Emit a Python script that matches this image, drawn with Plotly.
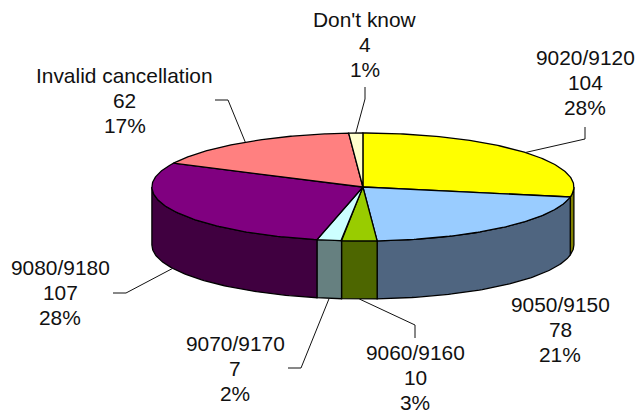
import numpy as np
import plotly.graph_objects as go

# Chart data
categories = ["9020/9120", "9050/9150", "9060/9160", "9070/9170",
              "9080/9180", "Invalid cancellation", "Don't know"]
counts = [104, 78, 10, 7, 107, 62, 4]
percent_labels = ["28%", "21%", "3%", "2%", "28%", "17%", "1%"]

# Slice colours: top face and darker wall
top_colors = ["#FFFF00", "#99CCFF", "#99CC00", "#CCFFFF", "#800080", "#FF8080", "#FFFFCC"]
wall_colors = ["#808000", "#4F6580", "#4D6600", "#668080", "#400040", "#804040", "#808066"]

# Tilted disc geometry, in pixels of the 635x415 page
CX, CY, RX, RY, DEPTH = 362.9, 187.0, 211.0, 54.0, 58.0
EDGE = 1.3
LEADER = 1.0
FONT_SIZE = 20.9
LINE_GAP = 25.0

# Label placement: centre x, y of the first line, leader elbow points from label to disc
placement = {
    "9020/9120": dict(x=585, y=57.5, leader=[(585, 127), (585, 139)], on_base=False),
    "9050/9150": dict(x=560, y=304.5, leader=None, on_base=False),
    "9060/9160": dict(x=415, y=352.5, leader=[(415, 338), (415, 325)], on_base=True),
    "9070/9170": dict(x=235, y=343, leader=[(288, 368), (301, 368)], on_base=True),
    "9080/9180": dict(x=60, y=267.5, leader=[(113, 293), (126, 293)], on_base=True),
    "Invalid cancellation": dict(x=124.5, y=75, leader=[(215, 100), (228, 100)], on_base=False),
    "Don't know": dict(x=365, y=19.5, leader=[(365, 87), (365, 99)], on_base=False),
}


def rim(a, drop=0.0):
    """Point on the disc rim at clockwise angle a (radians from 12 o'clock)."""
    return CX + RX * np.sin(a), CY - RY * np.cos(a) + drop


totals = np.cumsum([0] + counts)
edges = totals / totals[-1] * 2 * np.pi

fig = go.Figure()


def polygon(xs, ys, color):
    fig.add_trace(go.Scatter(
        x=xs, y=ys, mode="lines", fill="toself", fillcolor=color,
        line=dict(color="black", width=EDGE), hoverinfo="skip", showlegend=False,
    ))


# Outer wall: only the part of each slice facing the viewer
for i in range(len(counts)):
    a0 = max(edges[i], np.pi / 2)
    a1 = min(edges[i + 1], 3 * np.pi / 2)
    if a1 <= a0:
        continue
    arc = np.linspace(a0, a1, 80)
    xt, yt = rim(arc)
    xb, yb = rim(arc[::-1], DEPTH)
    polygon(np.r_[xt, xb, xt[0]], np.r_[yt, yb, yt[0]], wall_colors[i])

# Top face
for i in range(len(counts)):
    arc = np.linspace(edges[i], edges[i + 1], 120)
    xt, yt = rim(arc)
    polygon(np.r_[CX, xt, CX], np.r_[CY, yt, CY], top_colors[i])

# Leader lines end on the rim at each slice's middle angle
for i, name in enumerate(categories):
    spot = placement[name]
    if spot["leader"] is None:
        continue
    mid = (edges[i] + edges[i + 1]) / 2
    end = rim(mid, DEPTH if spot["on_base"] else 0.0)
    pts = spot["leader"] + [end]
    fig.add_trace(go.Scatter(
        x=[p[0] for p in pts], y=[p[1] for p in pts], mode="lines",
        line=dict(color="#111111", width=LEADER), hoverinfo="skip", showlegend=False,
    ))

# Three-line labels: name, count, share
for i, name in enumerate(categories):
    spot = placement[name]
    for k, text in enumerate([name, str(counts[i]), percent_labels[i]]):
        fig.add_annotation(
            x=spot["x"], y=spot["y"] + k * LINE_GAP, text=text, showarrow=False,
            xanchor="center", yanchor="middle",
            font=dict(family="Liberation Sans, Arial, sans-serif", size=FONT_SIZE, color="#111111"),
        )

fig.update_layout(
    width=635, height=415, margin=dict(l=0, r=0, t=0, b=0),
    paper_bgcolor="white", plot_bgcolor="white", showlegend=False,
    xaxis=dict(range=[0, 635], visible=False, fixedrange=True),
    yaxis=dict(range=[415, 0], visible=False, fixedrange=True),
)

fig.write_html("out.html", config=dict(displayModeBar=False))
